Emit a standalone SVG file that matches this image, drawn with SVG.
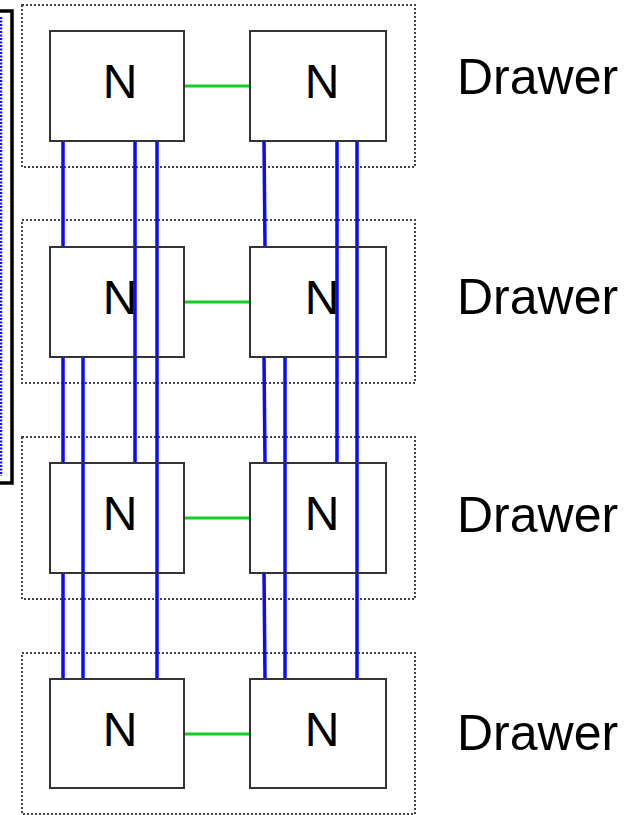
<svg xmlns="http://www.w3.org/2000/svg" width="639" height="815" viewBox="0 0 639 815">
<style>
.drawer{fill:none;stroke:#444;stroke-width:2;stroke-dasharray:2 2}
.node{fill:none;stroke:#333;stroke-width:2}
.nt{font-family:"Liberation Sans",Arial,sans-serif;font-size:48px;fill:#000;text-anchor:middle}
.dt{font-family:"Liberation Sans",Arial,sans-serif;font-size:50px;fill:#000}
.g{stroke:#11cc22;stroke-width:3;fill:none}
.b{stroke:#0a0aff;stroke-width:3.5;fill:none}
</style>
<rect x="0" y="0" width="639" height="815" fill="#fff"/>
<g id="frame">
<path d="M0 11 H12 V483 H0" fill="none" stroke="#000" stroke-width="3.5"/>
<line x1="1" y1="17" x2="1" y2="476" stroke="#0a0aff" stroke-width="2.5" stroke-dasharray="2 1.5"/>
</g>
<g id="drawers">
<rect class="drawer" x="22" y="5" width="393" height="162"/>
<rect class="drawer" x="22" y="220" width="393" height="163"/>
<rect class="drawer" x="22" y="437" width="393" height="162"/>
<rect class="drawer" x="22" y="653" width="393" height="161"/>
</g>
<g id="connectors">
<line class="g" x1="184" y1="86" x2="250" y2="86"/>
<line class="g" x1="184" y1="302" x2="250" y2="302"/>
<line class="g" x1="184" y1="518" x2="250" y2="518"/>
<line class="g" x1="184" y1="734" x2="250" y2="734"/>
<line class="b" x1="63" y1="141" x2="63" y2="247"/>
<line class="b" x1="63" y1="357" x2="63" y2="463"/>
<line class="b" x1="63" y1="573" x2="63" y2="679"/>
<line class="b" x1="83" y1="357" x2="83" y2="679"/>
<line class="b" x1="135" y1="141" x2="135" y2="463"/>
<line class="b" x1="157" y1="141" x2="157" y2="679"/>
<line class="b" x1="264" y1="141" x2="265" y2="247"/>
<line class="b" x1="264" y1="357" x2="265" y2="463"/>
<line class="b" x1="264" y1="573" x2="265" y2="679"/>
<line class="b" x1="285" y1="357" x2="285" y2="679"/>
<line class="b" x1="337" y1="141" x2="337" y2="463"/>
<line class="b" x1="357" y1="141" x2="357" y2="679"/>
</g>
<g id="n1l"><rect class="node" x="50" y="31" width="134" height="110"/><text class="nt" x="120" y="98">N</text></g>
<g id="n1r"><rect class="node" x="250" y="31" width="136" height="110"/><text class="nt" x="322" y="98">N</text></g>
<g id="n2l"><rect class="node" x="50" y="247" width="134" height="110"/><text class="nt" x="120" y="314">N</text></g>
<g id="n2r"><rect class="node" x="250" y="247" width="136" height="110"/><text class="nt" x="322" y="314">N</text></g>
<g id="n3l"><rect class="node" x="50" y="463" width="134" height="110"/><text class="nt" x="120" y="530">N</text></g>
<g id="n3r"><rect class="node" x="250" y="463" width="136" height="110"/><text class="nt" x="322" y="530">N</text></g>
<g id="n4l"><rect class="node" x="50" y="679" width="134" height="109"/><text class="nt" x="120" y="746">N</text></g>
<g id="n4r"><rect class="node" x="250" y="679" width="136" height="109"/><text class="nt" x="322" y="746">N</text></g>
<g id="labels">
<text class="dt" x="457" y="94">Drawer</text>
<text class="dt" x="457" y="314">Drawer</text>
<text class="dt" x="457" y="532">Drawer</text>
<text class="dt" x="457" y="750">Drawer</text>
</g>
</svg>
